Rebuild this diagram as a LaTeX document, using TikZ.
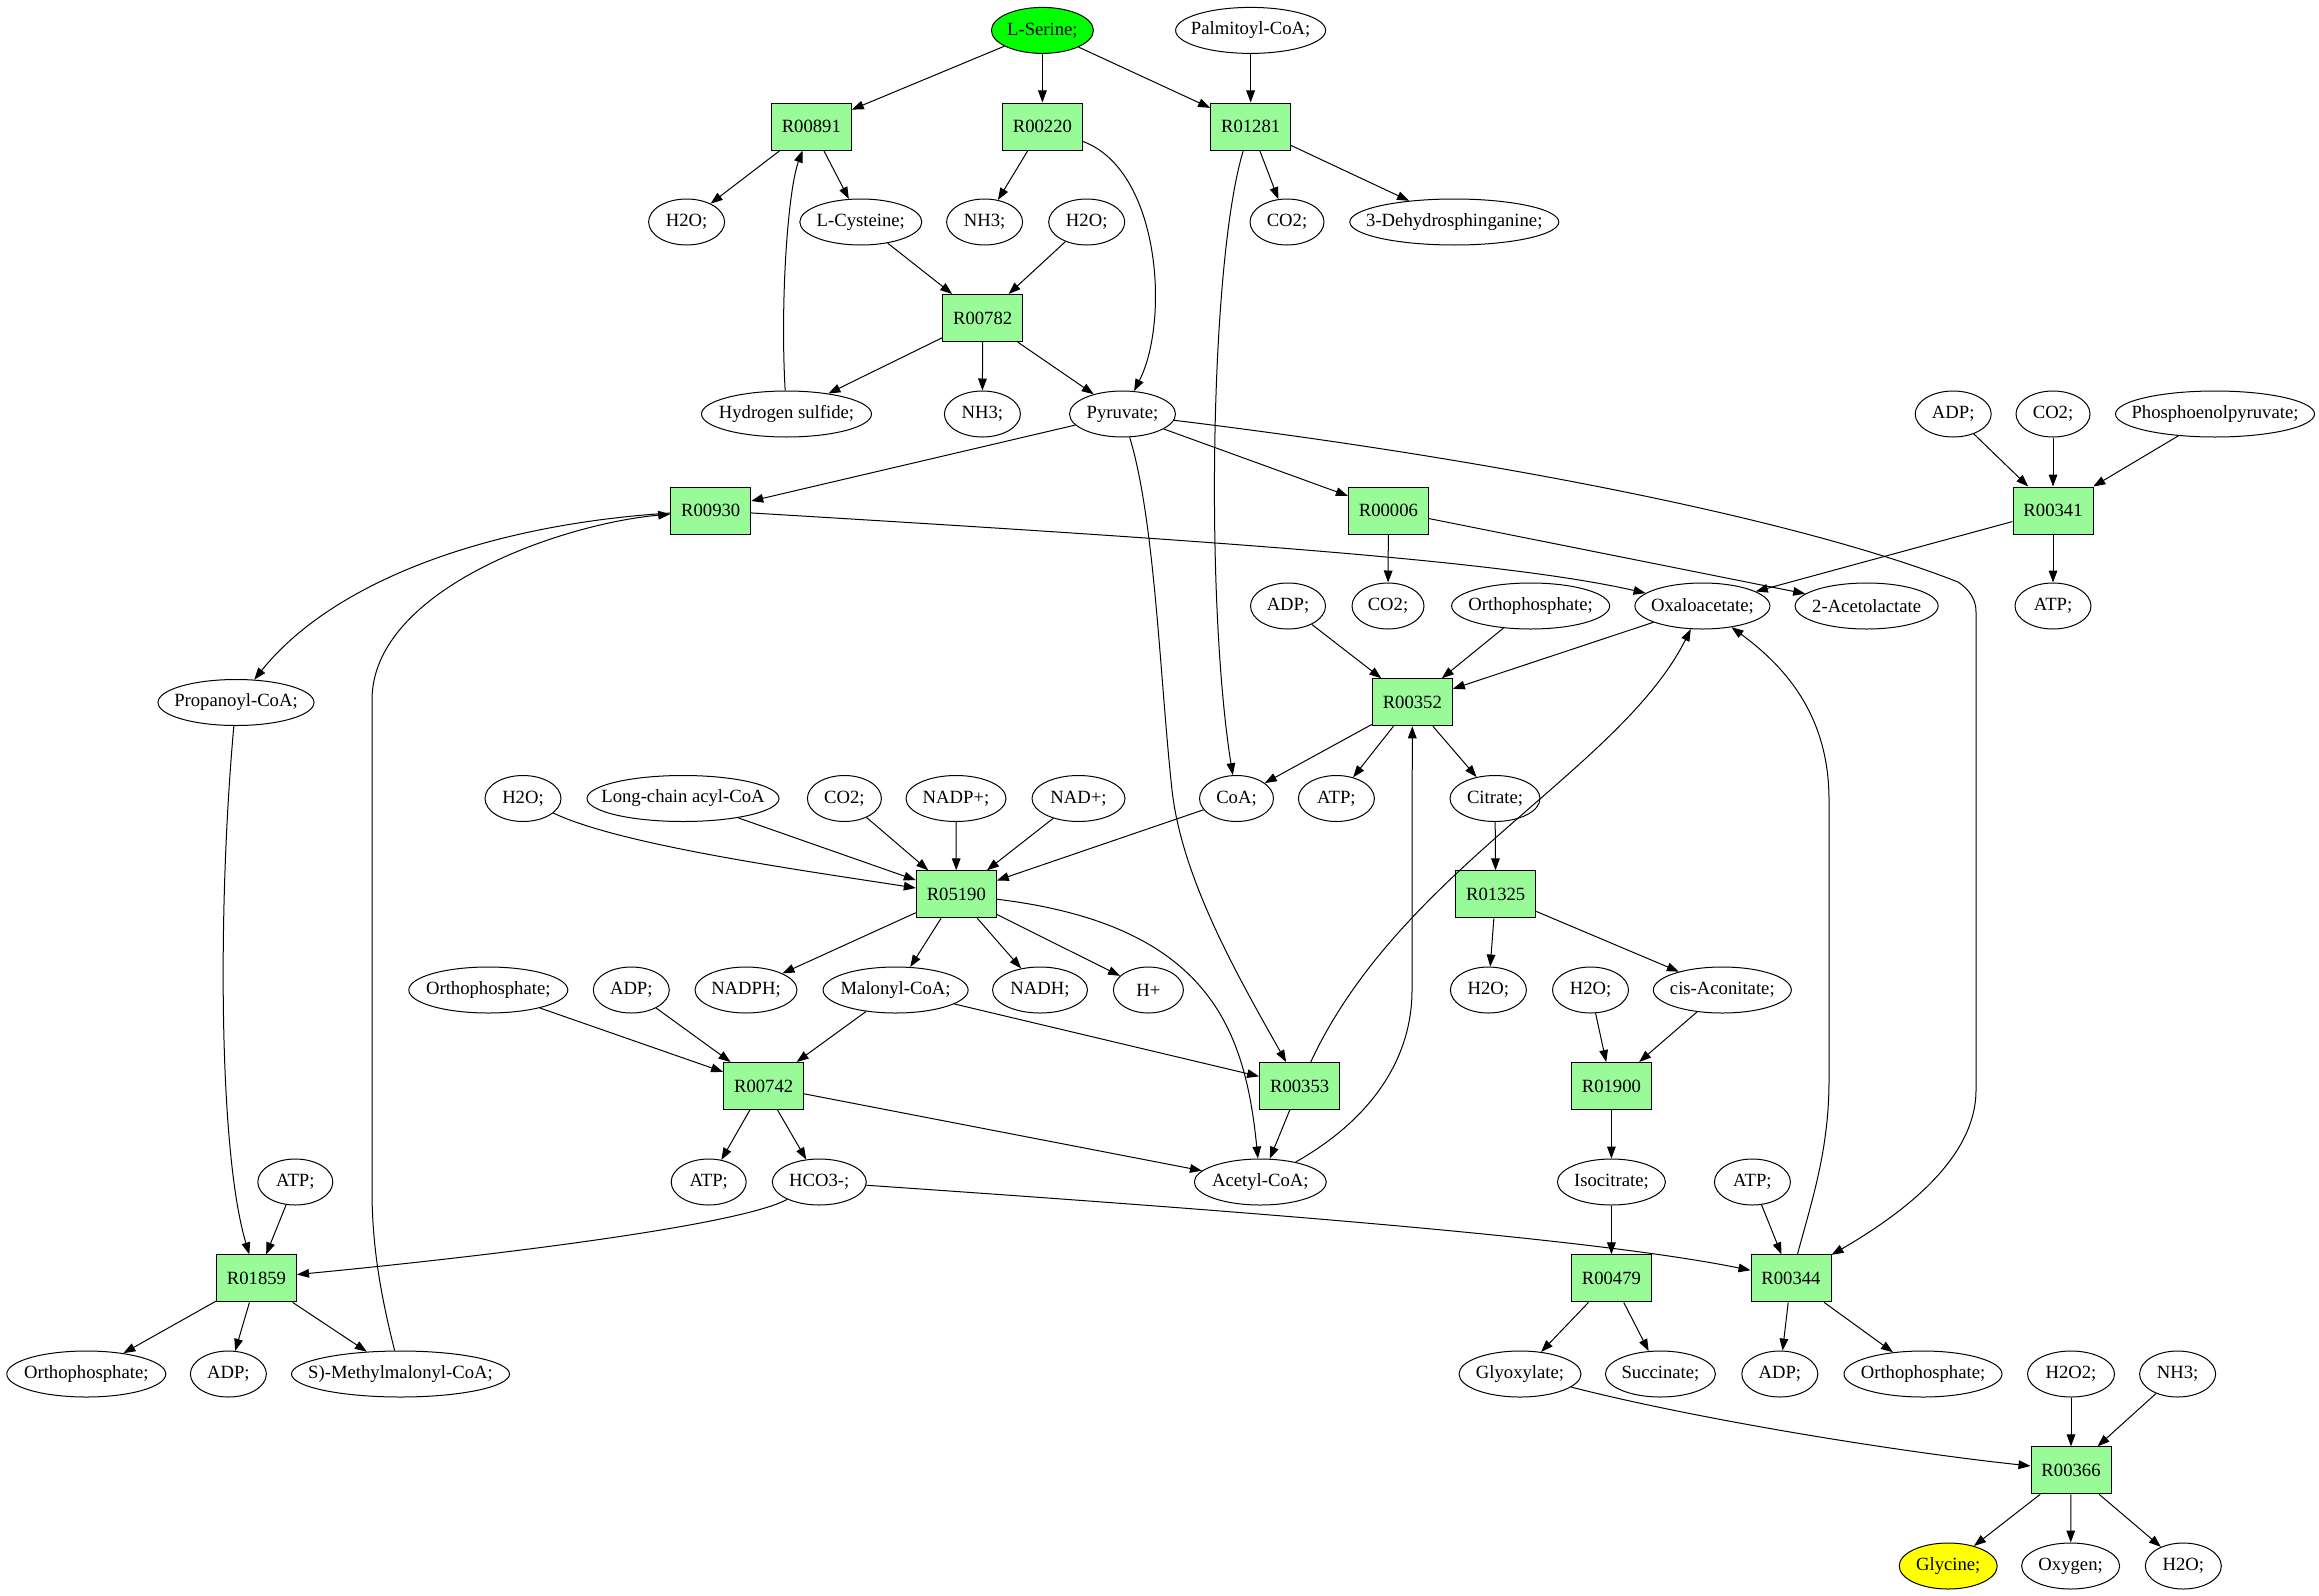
\documentclass[tikz,border=0pt]{standalone}
\usepackage{fontspec}
\setmainfont{Liberation Serif}
\usetikzlibrary{shapes.geometric,arrows.meta}
\definecolor{rgreen}{HTML}{98FB98}
\definecolor{sgreen}{HTML}{00FF00}
\definecolor{gyellow}{HTML}{FFFF00}
\newcommand\zt[1]{\makebox[0pt][c]{#1}}
\begin{document}
\begin{tikzpicture}[x=0.75pt,y=-0.75pt,
  every node/.style={font=\fontsize{14}{16}\selectfont},
  met/.style={ellipse,draw,line width=0.75pt,inner sep=0pt,minimum height=34.5pt,minimum width={#1*0.75pt}},
  rxn/.style={rectangle,draw,fill=rgreen,line width=0.75pt,inner sep=0pt,minimum width=60pt,minimum height=35.25pt},
  arr/.style={-{Triangle[length=9pt,width=6.5pt]},line width=0.75pt}]
\fill[white] (0,0) rectangle (2319,1595);
\useasboundingbox (0,0) rectangle (2319,1595);
% nodes
\node[met=102,fill=sgreen] (ser) at (1042.4,30.4) {\zt{L-Serine;}};
\node[met=150] (palm) at (1250.6,30.4) {\zt{Palmitoyl-CoA;}};
\node[rxn] (r891) at (811.3,126.5) {R00891};
\node[rxn] (r220) at (1042.4,126.5) {R00220};
\node[rxn] (r1281) at (1250.6,126.5) {R01281};
\node[met=76] (h2oA) at (686.6,222) {\zt{H2O;}};
\node[met=122] (cys) at (860.8,222) {\zt{L-Cysteine;}};
\node[met=76] (nh3A) at (984.6,222) {\zt{NH3;}};
\node[met=76] (h2oB) at (1086.7,222) {\zt{H2O;}};
\node[met=74] (co2A) at (1287,222) {\zt{CO2;}};
\node[met=209] (dhs) at (1454.3,222) {\zt{3-Dehydrosphinganine;}};
\node[rxn] (r782) at (982.6,318) {R00782};
\node[met=170] (h2s) at (786.5,414) {\zt{Hydrogen sulfide;}};
\node[met=76] (nh3B) at (982.4,414) {\zt{NH3;}};
\node[met=106] (pyr) at (1122.5,414) {\zt{Pyruvate;}};
\node[met=76] (adpB) at (1953.2,414) {\zt{ADP;}};
\node[met=74] (co2D) at (2053,414) {\zt{CO2;}};
\node[met=199] (pep) at (2215,414) {\zt{Phosphoenolpyruvate;}};
\node[rxn] (r930) at (710.7,510.5) {R00930};
\node[rxn] (r006) at (1388.4,510.5) {R00006};
\node[rxn] (r341) at (2053,510.5) {R00341};
\node[met=75] (adpA) at (1288,606) {\zt{ADP;}};
\node[met=72] (co2B) at (1388,606) {\zt{CO2;}};
\node[met=158] (piA) at (1530.6,606) {\zt{Orthophosphate;}};
\node[met=135] (oaa) at (1702.4,606) {\zt{Oxaloacetate;}};
\node[met=143] (acl) at (1866.6,606) {\zt{2-Acetolactate}};
\node[met=76] (atpB) at (2053,606) {\zt{ATP;}};
\node[met=156] (prop) at (236,702.5) {\zt{Propanoyl-CoA;}};
\node[rxn] (r352) at (1412.3,702.3) {R00352};
\node[met=76] (h2oC) at (523,798.5) {\zt{H2O;}};
\node[met=192] (lcac) at (683,798.5) {\zt{Long-chain acyl-CoA}};
\node[met=74] (co2C) at (844.4,798.5) {\zt{CO2;}};
\node[met=100] (nadp) at (956,798.5) {\zt{NADP+;}};
\node[met=93] (nad) at (1078.5,798.5) {\zt{NAD+;}};
\node[met=74] (coa) at (1236.5,798.5) {\zt{CoA;}};
\node[met=76] (atpA) at (1336.4,798.5) {\zt{ATP;}};
\node[met=90] (cit) at (1495,798.5) {\zt{Citrate;}};
\node[rxn] (r5190) at (956.3,894.3) {R05190};
\node[rxn] (r1325) at (1495.7,894.3) {R01325};
\node[met=159] (piB) at (488.3,990) {\zt{Orthophosphate;}};
\node[met=76] (adpC) at (631.3,990) {\zt{ADP;}};
\node[met=102] (nadph) at (746,990) {\zt{NADPH;}};
\node[met=145] (mal) at (895.6,990) {\zt{Malonyl-CoA;}};
\node[met=95] (nadh) at (1040,990) {\zt{NADH;}};
\node[met=70] (hplus) at (1148.4,990) {\zt{H+}};
\node[met=76] (h2oD) at (1488.4,990) {\zt{H2O;}};
\node[met=76] (h2oE) at (1590.5,990) {\zt{H2O;}};
\node[met=138] (cisa) at (1722.3,990) {\zt{cis-Aconitate;}};
\node[rxn] (r742) at (763.6,1086) {R00742};
\node[rxn] (r353) at (1299.6,1086) {R00353};
\node[rxn] (r1900) at (1611.4,1086) {R01900};
\node[met=75] (atpD) at (295.3,1182) {\zt{ATP;}};
\node[met=75] (atpC) at (708.7,1182) {\zt{ATP;}};
\node[met=94] (hco3) at (819.3,1182) {\zt{HCO3-;}};
\node[met=132] (acoa) at (1260.3,1182) {\zt{Acetyl-CoA;}};
\node[met=108] (iso) at (1611.4,1182) {\zt{Isocitrate;}};
\node[met=76] (atpE) at (1752.4,1182) {\zt{ATP;}};
\node[rxn] (r1859) at (256.5,1278.4) {R01859};
\node[rxn] (r479) at (1611.4,1278.4) {R00479};
\node[rxn] (r344) at (1791,1278.4) {R00344};
\node[met=159] (piC) at (86.3,1374) {\zt{Orthophosphate;}};
\node[met=76] (adpD) at (228.4,1374) {\zt{ADP;}};
\node[met=218] (mmc) at (400.5,1374) {\zt{S)-Methylmalonyl-CoA;}};
\node[met=122] (glx) at (1520,1374) {\zt{Glyoxylate;}};
\node[met=110] (succ) at (1660.4,1374) {\zt{Succinate;}};
\node[met=76] (adpE) at (1779.8,1374) {\zt{ADP;}};
\node[met=158] (piD) at (1923,1374) {\zt{Orthophosphate;}};
\node[met=87] (h2o2) at (2071,1374) {\zt{H2O2;}};
\node[met=76] (nh3C) at (2177.6,1374) {\zt{NH3;}};
\node[rxn] (r366) at (2071,1470.3) {R00366};
\node[met=98,fill=gyellow] (gly) at (1948.2,1566) {\zt{Glycine;}};
\node[met=98] (oxy) at (2070.6,1566) {\zt{Oxygen;}};
\node[met=76] (h2oF) at (2183.3,1566) {\zt{H2O;}};
% straight edges
\foreach \a/\b in {ser/r891,ser/r220,ser/r1281,palm/r1281,r891/h2oA,r891/cys,r220/nh3A,
  r1281/co2A,r1281/dhs,cys/r782,h2oB/r782,r782/h2s,r782/nh3B,r782/pyr,pyr/r930,pyr/r006,
  adpB/r341,co2D/r341,pep/r341,r341/atpB,r341/oaa,r006/co2B,r006/acl,adpA/r352,piA/r352,
  oaa/r352,r352/coa,r352/atpA,r352/cit,lcac/r5190,co2C/r5190,nadp/r5190,nad/r5190,coa/r5190,
  r5190/nadph,r5190/mal,r5190/nadh,r5190/hplus,cit/r1325,r1325/h2oD,r1325/cisa,piB/r742,
  adpC/r742,mal/r742,mal/r353,r742/atpC,r742/hco3,r742/acoa,r353/acoa,h2oE/r1900,cisa/r1900,
  r1900/iso,iso/r479,atpD/r1859,atpE/r344,r1859/piC,r1859/adpD,r1859/mmc,r479/glx,r479/succ,
  r344/adpE,r344/piD,h2o2/r366,nh3C/r366,r366/gly,r366/oxy,r366/h2oF}
  {\draw[arr] (\a) -- (\b);}
% curved edges
\draw[arr] (r220) .. controls (1160,170) and (1170,320) .. (pyr);
\draw[arr] (r1281) .. controls (1210,260) and (1205,600) .. (coa);
\draw[arr] (h2s) .. controls (780,300) and (788,190) .. (r891);
\draw[arr] (pyr) .. controls (1155,520) and (1160,680) .. (1172,790) .. controls (1182,880) and (1240,980) .. (r353);
\draw[arr] (pyr) .. controls (1500,460) and (1800,520) .. (1958,582) .. controls (1970,590) and (1976,600) .. (1976,612) -- (1976,1090) .. controls (1976,1160) and (1900,1215) .. (r344);
\draw[arr] (r930) .. controls (1200,540) and (1500,560) .. (oaa);
\draw[arr] (r930) .. controls (480,525) and (330,585) .. (prop);
\draw[arr] (mmc) .. controls (382,1300) and (372,1250) .. (372,1190) -- (372,700) .. controls (372,590) and (560,524) .. (r930);
\draw[arr] (prop) .. controls (218,900) and (218,1150) .. (r1859);
\draw[arr] (r5190) .. controls (1210,925) and (1245,1030) .. (acoa);
\draw[arr] (r353) .. controls (1400,870) and (1620,770) .. (oaa);
\draw[arr] (acoa) .. controls (1370,1120) and (1412,1060) .. (1412,990) -- (r352);
\draw[arr] (r344) .. controls (1812,1200) and (1829,1150) .. (1829,1080) -- (1829,800) .. controls (1829,720) and (1790,670) .. (oaa);
\draw[arr] (hco3) .. controls (1300,1215) and (1600,1240) .. (r344);
\draw[arr] (hco3) .. controls (740,1225) and (500,1255) .. (r1859);
\draw[arr] (glx) .. controls (1700,1420) and (1900,1452) .. (r366);
\draw[arr] (h2oC) .. controls (620,845) and (800,870) .. (r5190);
\end{tikzpicture}
\end{document}
